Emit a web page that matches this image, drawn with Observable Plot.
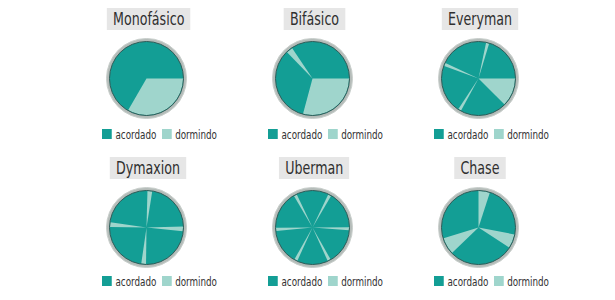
<!DOCTYPE html>
<html>
<head>
<meta charset="utf-8">
<script src="https://cdn.jsdelivr.net/npm/d3@7"></script>
<script src="https://cdn.jsdelivr.net/npm/@observablehq/plot@0.6"></script>
<style>
  html, body { margin: 0; padding: 0; background: #fff; }
  #chart { position: relative; width: 615px; height: 300px; overflow: hidden;
           font-family: "DejaVu Sans Condensed", "DejaVu Sans", sans-serif; font-stretch: condensed; color: #333; }
  .title { position: absolute; height: 22px; line-height: 22px; font-size: 18px; background: #e6e6e6;
           padding: 0 8px; transform-origin: center center; white-space: nowrap; color: #2f2f2f; }
  .pie { position: absolute; }
  .legend { position: absolute; display: flex; align-items: center; font-size: 13px; white-space: nowrap; color: #333;
            transform-origin: left center; }
  .sw { display: inline-block; width: 13px; height: 10px; margin-right: 5px; }
  .item { display: flex; align-items: center; margin-right: 7px; }
</style>
</head>
<body>
<div id="chart"></div>
<script>
// Schedules and sleep intervals (clock hours on a 24h dial, 0 at top, clockwise)
const schedules = ["Monofásico", "Bifásico", "Everyman", "Dymaxion", "Uberman", "Chase"];
const sleepStart = [
  [6],
  [6, 21.05],
  [6, 0.8, 13.9, 19.33],
  [0.1, 5.9, 12.05, 18.05],
  [1.7, 5.97, 10.03, 13.63, 17.63, 21.97],
  [0, 6.73, 15.07]
];
const sleepEnd = [
  [14],
  [13, 21.75],
  [9, 1.13, 14.23, 19.67],
  [0.6, 6.4, 12.55, 18.55],
  [2.03, 6.3, 10.37, 13.97, 17.97, 22.3],
  [1.2, 8.2, 16.87]
];
const legendLabels = ["acordado", "dormindo"];
const stateColors = ["#139e95", "#9fd5cc"];

const colX = [146, 312, 478];
const rowY = [78, 227];
const legendDy = [48, 46];
const R_OUT = 40, R_IN = 37;
const chart = document.getElementById("chart");

schedules.forEach((name, i) => {
  const row = Math.floor(i / 3);
  const cx = colX[i % 3], cy = rowY[row];

  // title
  const t = document.createElement("div");
  t.className = "title";
  t.textContent = name;
  t.style.top = (cy - 70) + "px";
  chart.appendChild(t);
  const tw = t.offsetWidth;
  t.style.left = (cx + 2 - tw / 2) + "px";
  t.style.transform = "scaleX(0.78)";

  // wedge polygons derived from the sleep intervals
  const pts = [];
  sleepStart[i].forEach((s, k) => {
    const e = sleepEnd[i][k];
    const a0 = s / 24 * 2 * Math.PI, a1 = e / 24 * 2 * Math.PI;
    const n = Math.max(2, Math.ceil((a1 - a0) / 0.02));
    pts.push({id: k, x: 0, y: 0});
    for (let j = 0; j <= n; j++) {
      const a = a0 + (a1 - a0) * j / n;
      pts.push({id: k, x: (R_IN - 0.5) * Math.sin(a), y: (R_IN - 0.5) * Math.cos(a)});
    }
    pts.push({id: k, x: 0, y: 0});
  });

  const S = 44;
  const svg = Plot.plot({
    width: 2 * S, height: 2 * S, margin: 0,
    x: {domain: [-S, S], axis: null},
    y: {domain: [-S, S], axis: null},
    marks: [
      Plot.dot([0], {x: () => 0, y: () => 0, r: R_OUT, fill: "#b5bcb9", stroke: "#c9cfcc", strokeWidth: 1}),
      Plot.dot([0], {x: () => 0, y: () => 0, r: R_IN, fill: stateColors[0]}),
      Plot.line(pts, {x: "x", y: "y", z: "id", fill: stateColors[1], stroke: "none", curve: "linear"}),
      Plot.dot([0], {x: () => 0, y: () => 0, r: R_IN, fill: "none", stroke: "#2e5c58", strokeWidth: 1})
    ]
  });
  const holder = document.createElement("div");
  holder.className = "pie";
  holder.style.left = (cx - S) + "px";
  holder.style.top = (cy - S) + "px";
  holder.appendChild(svg);
  chart.appendChild(holder);

  // legend
  const lg = document.createElement("div");
  lg.className = "legend";
  lg.style.left = (cx - 44) + "px";
  lg.style.top = (cy + legendDy[row]) + "px";
  lg.style.height = "16px";
  lg.style.transform = "scaleX(0.75)";
  legendLabels.forEach((lab, k) => {
    const it = document.createElement("span");
    it.className = "item";
    const sw = document.createElement("span");
    sw.className = "sw";
    sw.style.background = stateColors[k];
    it.appendChild(sw);
    it.appendChild(document.createTextNode(lab));
    lg.appendChild(it);
  });
  chart.appendChild(lg);
});
</script>
</body>
</html>
